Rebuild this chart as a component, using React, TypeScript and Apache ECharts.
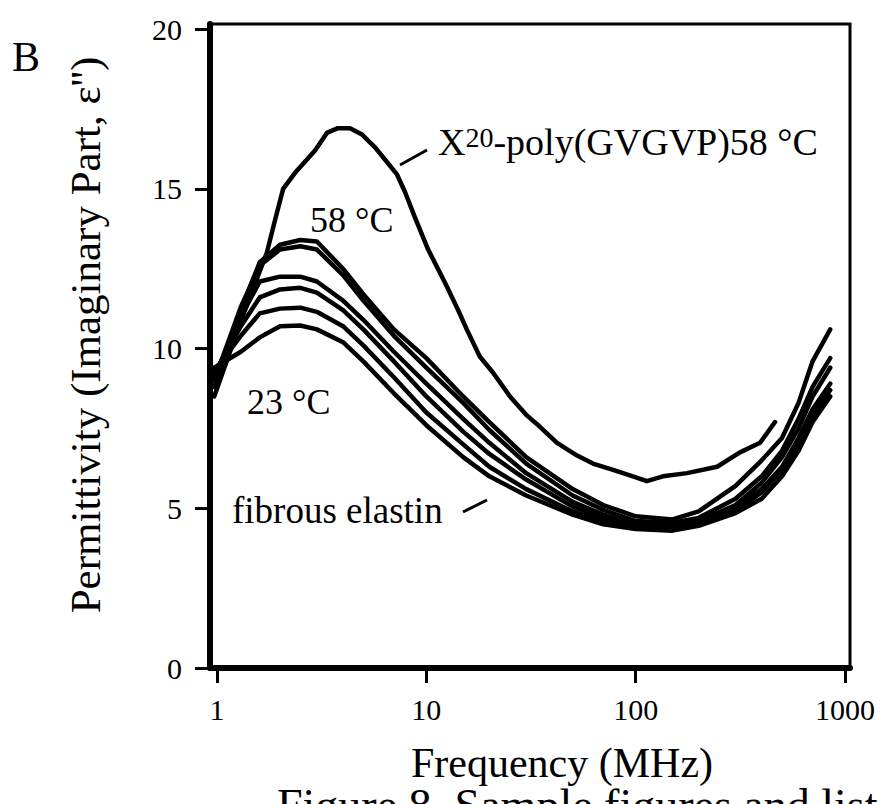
import React, { useEffect, useRef } from 'react';
import * as echarts from 'echarts';

// Frequencies (MHz) shared by the fibrous elastin curves
const FREQ_MHZ = [0.97, 1.3, 1.6, 2, 2.5, 3, 4, 5, 7, 10, 15, 20, 30, 50, 70, 100, 150, 200, 300, 400, 500, 600, 700, 850];

// Fibrous elastin, imaginary permittivity, from 58 °C (top) down to 23 °C (bottom)
const ELASTIN_58C = [8.8, 11.2, 12.7, 13.25, 13.4, 13.35, 12.5, 11.7, 10.6, 9.7, 8.5, 7.7, 6.6, 5.6, 5.1, 4.75, 4.65, 4.9, 5.7, 6.5, 7.2, 8.3, 9.6, 10.6];
const ELASTIN_T5 = [9.0, 11.3, 12.6, 13.1, 13.2, 13.1, 12.3, 11.5, 10.4, 9.4, 8.3, 7.45, 6.4, 5.4, 4.95, 4.6, 4.55, 4.7, 5.3, 6.0, 6.8, 7.8, 8.8, 9.7];
const ELASTIN_T4 = [9.1, 11.0, 12.1, 12.25, 12.25, 12.1, 11.5, 10.9, 9.9, 8.9, 7.8, 7.05, 6.1, 5.2, 4.8, 4.5, 4.45, 4.6, 5.1, 5.8, 6.6, 7.5, 8.5, 9.4];
const ELASTIN_T3 = [9.2, 10.7, 11.6, 11.85, 11.9, 11.75, 11.2, 10.6, 9.6, 8.5, 7.4, 6.7, 5.9, 5.05, 4.7, 4.45, 4.4, 4.55, 5.0, 5.6, 6.3, 7.2, 8.1, 8.9];
const ELASTIN_T2 = [9.3, 10.4, 11.1, 11.25, 11.28, 11.15, 10.7, 10.1, 9.1, 8.0, 7.0, 6.3, 5.6, 4.9, 4.6, 4.4, 4.35, 4.5, 4.9, 5.5, 6.2, 7.0, 7.9, 8.7];
const ELASTIN_23C = [9.4, 9.9, 10.35, 10.7, 10.72, 10.6, 10.2, 9.6, 8.6, 7.6, 6.6, 6.0, 5.4, 4.8, 4.5, 4.35, 4.3, 4.45, 4.85, 5.3, 6.0, 6.8, 7.7, 8.5];

// X20-poly(GVGVP) at 58 °C
const X20_FREQ = [0.97, 1.29, 1.73, 1.89, 2.07, 2.36, 2.63, 2.94, 3.35, 3.78, 4.32, 4.93, 5.69, 6.56, 7.24, 7.91, 8.83, 10.2, 12.3, 14.2, 15.6, 18, 20.8, 25.1, 30.3, 34.9, 42.1, 52.5, 62.5, 78, 97, 113, 135, 176, 245, 315, 393, 463];
const X20_VALUES = [8.5, 10.8, 13.0, 14.0, 15.0, 15.5, 15.85, 16.2, 16.75, 16.9, 16.9, 16.7, 16.3, 15.8, 15.45, 14.9, 14.1, 13.1, 12.05, 11.2, 10.6, 9.75, 9.25, 8.5, 7.9, 7.55, 7.05, 6.65, 6.4, 6.2, 6.0, 5.85, 6.0, 6.1, 6.3, 6.75, 7.05, 7.7];

const X_TICKS = [1, 10, 100, 1000];
const Y_TICKS = [0, 5, 10, 15, 20];

const FONT = '"Liberation Serif", "Times New Roman", Times, serif';

const toPoints = (freqs: number[], vals: number[]) => freqs.map((f, i) => [Math.log10(f), vals[i]]);

export default function App() {
  const ref = useRef<HTMLDivElement>(null);
  useEffect(() => {
    document.body.style.margin = '0';
    document.body.style.overflow = 'hidden';
    const chart = echarts.init(ref.current!, null, { renderer: 'svg' });
    const logTicks = X_TICKS.map((t) => Math.log10(t));
    const curves = [ELASTIN_58C, ELASTIN_T5, ELASTIN_T4, ELASTIN_T3, ELASTIN_T2, ELASTIN_23C];
    const lineStyle = { color: '#000', width: 4.5, join: 'round', cap: 'round' };
    const series: any[] = curves.map((c, i) => ({
      type: 'line',
      name: 'fibrous elastin ' + i,
      data: toPoints(FREQ_MHZ, c),
      showSymbol: false,
      symbol: 'none',
      lineStyle,
      silent: true,
    }));
    series.push({
      type: 'line',
      name: 'X20-poly(GVGVP) 58 °C',
      data: toPoints(X20_FREQ, X20_VALUES),
      showSymbol: false,
      symbol: 'none',
      lineStyle,
      silent: true,
    });
    const txt = (text: string, x: number, y: number, size: number, extra: any = {}) => ({
      type: 'text',
      silent: true,
      style: {
        text, x, y, fill: '#000', fontFamily: FONT, fontSize: size,
        align: 'left', textAlign: 'left', verticalAlign: 'middle', textVerticalAlign: 'middle',
        ...extra,
      },
    });
    chart.setOption({
      animation: false,
      grid: { left: 210, top: 24, width: 640, height: 644, show: true, borderColor: '#000', borderWidth: 3 },
      xAxis: {
        type: 'value', min: -0.0334, max: 3.0239,
        axisLine: { show: true, onZero: false, lineStyle: { color: '#000', width: 6 } },
        axisTick: { show: true, customValues: logTicks, length: 15, lineStyle: { color: '#000', width: 3 } },
        axisLabel: {
          customValues: logTicks,
          formatter: (v: number) => String(Math.round(Math.pow(10, v))),
          margin: 26, fontFamily: FONT, fontSize: 30, color: '#000',
        },
        splitLine: { show: false },
        name: 'Frequency (MHz)', nameLocation: 'middle', nameGap: 73,
        nameTextStyle: { fontFamily: FONT, fontSize: 42, lineHeight: 44, color: '#000', padding: [0, 0, 0, 64] },
      },
      yAxis: {
        type: 'value', min: 0, max: 20.16,
        axisLine: { show: true, onZero: false, lineStyle: { color: '#000', width: 6 } },
        axisTick: { show: true, customValues: Y_TICKS, length: 15, lineStyle: { color: '#000', width: 3 } },
        axisLabel: { customValues: Y_TICKS, margin: 28, fontFamily: FONT, fontSize: 30, color: '#000' },
        splitLine: { show: false },
        name: "Permittivity (Imaginary Part, ε'')", nameLocation: 'middle', nameGap: 103,
        nameTextStyle: { fontFamily: FONT, fontSize: 43, color: '#000', padding: [0, 0, 0, 22] },
      },
      series,
      graphic: [
        txt('B', 12, 57, 42),
        {
          type: 'text', silent: true,
          style: {
            text: 'X{s|20}-poly(GVGVP)58 °C', x: 438, y: 142, fill: '#000', fontFamily: FONT, fontSize: 38,
            align: 'left', textAlign: 'left', verticalAlign: 'middle', textVerticalAlign: 'middle',
            rich: { s: { fontSize: 28, fontFamily: FONT, fill: '#000', color: '#000', verticalAlign: 'top' } },
          },
        },
        txt('58 °C', 310, 220, 36),
        txt('23 °C', 247, 402, 36),
        txt('fibrous elastin', 232, 510, 37),
        txt('Figure 8. Sample figures and list', 277, 805, 46, { lineHeight: 28 }),
        { type: 'line', silent: true, shape: { x1: 400, y1: 165, x2: 427, y2: 150 }, style: { stroke: '#000', lineWidth: 3 } },
        { type: 'line', silent: true, shape: { x1: 463, y1: 512, x2: 487, y2: 500 }, style: { stroke: '#000', lineWidth: 3 } },
      ],
    });
    return () => chart.dispose();
  }, []);
  return <div ref={ref} style={{ position: 'absolute', left: 0, top: 0, width: 882, height: 804 }} />;
}
